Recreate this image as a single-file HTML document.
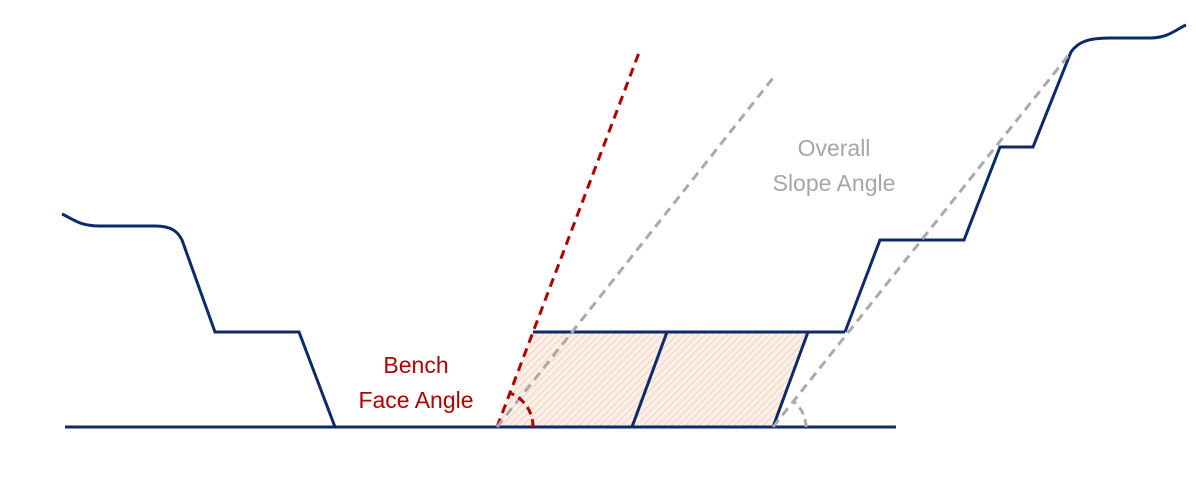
<!DOCTYPE html>
<html><head><meta charset="utf-8"><style>html,body{margin:0;padding:0;background:#fff}svg{display:block}</style></head>
<body>
<svg width="1196" height="491" viewBox="0 0 1196 491" xmlns="http://www.w3.org/2000/svg">
<defs>
<pattern id="h" width="5" height="5" patternUnits="userSpaceOnUse" patternTransform="rotate(45)">
<rect width="5" height="5" fill="#fdf0e8"/>
<line x1="0" y1="0" x2="0" y2="5" stroke="#f8d2bd" stroke-width="2"/>
</pattern>
</defs>
<polygon points="497,427 533,332 808,332 773,427" fill="url(#h)"/>
<g fill="none" stroke="#0d2a6b" stroke-width="3" stroke-linejoin="miter">
<line x1="65" y1="427" x2="896" y2="427"/>
<path d="M62,214 C75,220 80,226 100,226 L155,226 C172,226 178,232 182,240 L215,332 L299,332 L335,427"/>
<line x1="533" y1="332" x2="845" y2="332"/>
<line x1="667" y1="332" x2="632" y2="427"/>
<line x1="808" y1="332" x2="773" y2="427"/>
<path d="M845,332 L880,240 L964,240 L1000,147 L1033,147 L1071,52 C1078,42 1088,38 1110,38 L1150,38 C1168,38 1175,30 1186,25"/>
</g>
<g fill="none" stroke-width="3" stroke-dasharray="9,6">
<line x1="497" y1="427" x2="640" y2="50" stroke="#b00000"/>
<line x1="497" y1="427" x2="773" y2="78" stroke="#aaaaaa"/>
<line x1="773" y1="427" x2="1071" y2="52" stroke="#aaaaaa"/>
<path d="M533,427 A36,36 0 0 0 510,393" stroke="#b00000" stroke-dasharray="8,5"/>
<path d="M806,427 A33,33 0 0 0 793,401" stroke="#aaaaaa" stroke-dasharray="8,5"/>
</g>
<g font-family="'Liberation Sans',sans-serif" font-size="23" text-anchor="middle">
<text x="416" y="373" fill="#b00000">Bench</text>
<text x="416" y="408" fill="#b00000">Face Angle</text>
<text x="834" y="156" fill="#a6a6a6">Overall</text>
<text x="834" y="191" fill="#a6a6a6">Slope Angle</text>
</g>
</svg>
</body></html>
